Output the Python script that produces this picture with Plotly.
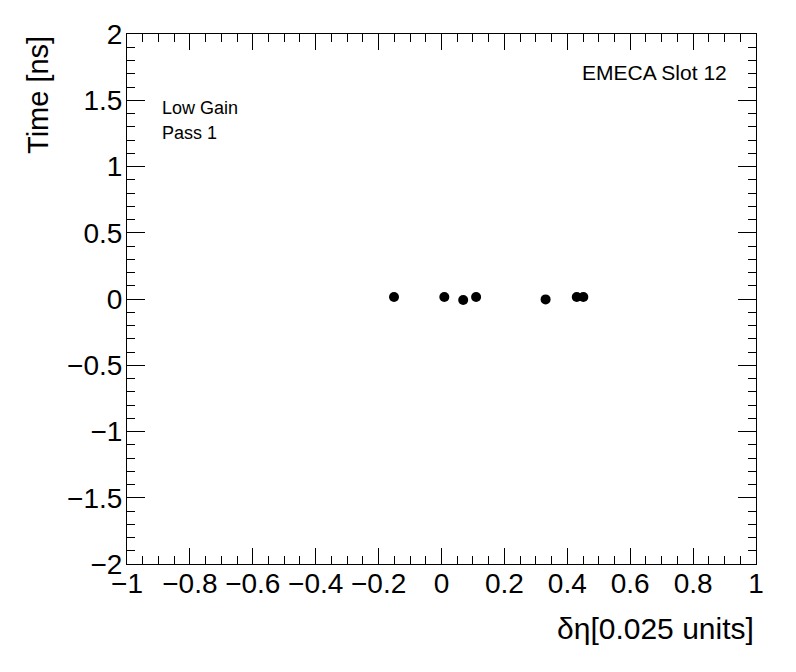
import plotly.graph_objects as go

# delta-eta offsets and timing of the channels
deta = [-0.151, 0.009, 0.069, 0.110, 0.331, 0.430, 0.451]
time_ns = [0.015, 0.015, -0.008, 0.015, -0.003, 0.015, 0.015]

FONT = "Liberation Sans, Arial, Helvetica, sans-serif"

fig = go.Figure()

fig.add_trace(go.Scatter(
    x=deta,
    y=time_ns,
    mode="markers",
    marker=dict(color="black", size=10, symbol="circle"),
    showlegend=False
))

axis_common = dict(
    showgrid=False,
    zeroline=False,
    showline=True,
    linecolor="black",
    linewidth=1,
    mirror="ticks",
    ticks="inside",
    tickcolor="black",
    tickwidth=1,
    automargin=False,
    tickfont=dict(family=FONT, size=28, color="black"),
)

fig.update_xaxes(
    range=[-1, 1],
    dtick=0.2,
    tick0=-1,
    ticklen=16,
    ticklabelstandoff=-6,
    minor=dict(dtick=0.05, ticklen=8, ticks="inside", tickcolor="black"),
    **axis_common
)
fig.update_yaxes(
    range=[-2, 2],
    dtick=0.5,
    tick0=-2,
    ticklen=18,
    ticklabelstandoff=-2,
    minor=dict(dtick=0.1, ticklen=8, ticks="inside", tickcolor="black"),
    **axis_common
)

# axis titles (ROOT style: aligned to the end of the axis)
fig.add_annotation(
    text="δη[0.025 units]", xref="paper", yref="paper",
    x=1, y=-0.121, xanchor="right", yanchor="middle",
    showarrow=False, font=dict(family=FONT, size=30, color="black")
)
fig.add_annotation(
    text="Time [ns]", xref="paper", yref="paper",
    x=-0.1415, y=1, xanchor="center", yanchor="top", textangle=-90,
    showarrow=False, font=dict(family=FONT, size=29, color="black")
)

# labels inside the frame
fig.add_annotation(
    text="Low Gain", xref="paper", yref="paper",
    x=0.0525, y=0.86, xanchor="left", yanchor="middle",
    showarrow=False, font=dict(family=FONT, size=18, color="black")
)
fig.add_annotation(
    text="Pass 1", xref="paper", yref="paper",
    x=0.0525, y=0.813, xanchor="left", yanchor="middle",
    showarrow=False, font=dict(family=FONT, size=18, color="black")
)
fig.add_annotation(
    text="EMECA Slot 12", xref="paper", yref="paper",
    x=0.957, y=0.928, xanchor="right", yanchor="middle",
    showarrow=False, font=dict(family=FONT, size=21, color="black")
)

# page body adds an 8 px offset, so margins are shifted to compensate
fig.update_layout(
    width=796,
    height=672,
    plot_bgcolor="white",
    paper_bgcolor="white",
    margin=dict(l=119, r=48, t=26, b=116),
    font=dict(family=FONT, color="black"),
)

fig.write_html("out.html")
